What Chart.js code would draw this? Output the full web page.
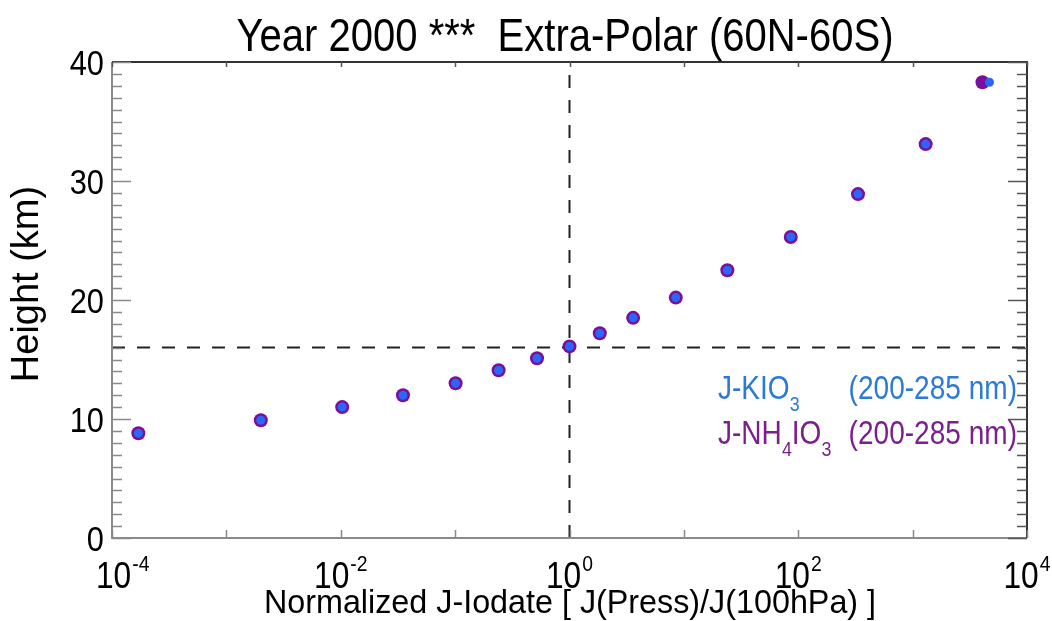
<!DOCTYPE html>
<html>
<head>
<meta charset="utf-8">
<script src="https://cdn.jsdelivr.net/npm/chart.js@4/dist/chart.umd.min.js"></script>
<style>
  html, body { margin: 0; padding: 0; background: #ffffff; }
  #wrap { width: 1052px; height: 621px; }
</style>
</head>
<body>
<div id="wrap"><canvas id="jChart" width="1052" height="621"></canvas></div>
<script>
// heights (km) of the model levels
const heights = [8.8, 9.9, 11.0, 12.0, 13.0, 14.1, 15.1, 16.1, 17.2, 18.5, 20.2, 22.5, 25.3, 28.9, 33.1, 38.3];
// J normalized to its 100 hPa value
const jKIO3 = [1.7e-4, 2.0e-3, 1.03e-2, 3.5e-2, 0.101, 0.24, 0.52, 1.0, 1.84, 3.6, 8.5, 24, 86, 333, 1300, 4700];
const jNH4IO3 = [1.7e-4, 2.0e-3, 1.03e-2, 3.5e-2, 0.101, 0.24, 0.52, 1.0, 1.84, 3.6, 8.5, 24, 86, 333, 1300, 4080];
// reference lines: tropopause height and J = J(100hPa)
const refHeight = 16;
const refRatio = 1;
// axes
const xDecades = [-4, -3, -2, -1, 0, 1, 2, 3, 4];
const xLabelDecades = [-4, -2, 0, 2, 4];
const yTicks = [0, 10, 20, 30, 40];

const FONT = '"Liberation Sans", Arial, sans-serif';
const blue = "#2b66f5";
const purple = "#7a0f9e";

const pts = (xs) => xs.map((v, i) => ({ x: v, y: heights[i] }));

// condensed text: squeeze horizontally by sx, returns drawn width
function text(ctx, str, x, y, size, sx, align) {
  ctx.save();
  ctx.font = size + "px " + FONT;
  const w = ctx.measureText(str).width * sx;
  let x0 = x;
  if (align === "center") x0 = x - w / 2;
  if (align === "right") x0 = x - w;
  ctx.translate(x0, y);
  ctx.scale(sx, 1);
  ctx.textAlign = "left";
  ctx.fillText(str, 0, 0);
  ctx.restore();
  return w;
}

function width(ctx, str, size, sx) {
  ctx.font = size + "px " + FONT;
  return ctx.measureText(str).width * sx;
}

const frame = {
  id: "frame",
  afterDatasetsDraw(chart) {
    const ctx = chart.ctx;
    const { left, right, top, bottom } = chart.chartArea;
    const xs = chart.scales.x;
    const ys = chart.scales.y;
    ctx.save();

    // box
    ctx.lineWidth = 2;
    ctx.strokeStyle = "#8a8a8a";
    ctx.beginPath();
    ctx.moveTo(left, top);
    ctx.lineTo(left, bottom);
    ctx.lineTo(right, bottom);
    ctx.stroke();
    ctx.strokeStyle = "#333";
    ctx.beginPath();
    ctx.moveTo(left, top);
    ctx.lineTo(right, top);
    ctx.lineTo(right, bottom);
    ctx.stroke();

    // y ticks, both sides, inward
    ctx.lineWidth = 1.5;
    for (let v = 0; v <= 40; v++) {
      const y = Math.round(ys.getPixelForValue(v)) + 0.5;
      const len = v % 10 === 0 ? 19 : 10;
      ctx.strokeStyle = "#8a8a8a";
      ctx.beginPath();
      ctx.moveTo(left, y);
      ctx.lineTo(left + len, y);
      ctx.stroke();
      ctx.strokeStyle = "#555";
      ctx.beginPath();
      ctx.moveTo(right, y);
      ctx.lineTo(right - len, y);
      ctx.stroke();
    }
    // x ticks at every decade
    xDecades.forEach((d) => {
      const x = Math.round(xs.getPixelForValue(Math.pow(10, d))) + 0.5;
      ctx.strokeStyle = "#555";
      ctx.beginPath();
      ctx.moveTo(x, top);
      ctx.lineTo(x, top + 5);
      ctx.stroke();
      ctx.strokeStyle = "#8a8a8a";
      ctx.beginPath();
      ctx.moveTo(x, bottom);
      ctx.lineTo(x, bottom - 8);
      ctx.stroke();
    });

    ctx.fillStyle = "#000";
    ctx.textBaseline = "alphabetic";
    // y labels
    yTicks.forEach((v) => text(ctx, String(v), 104, ys.getPixelForValue(v) + 12.5, 35, 0.88, "right"));

    // x labels: 10 with superscript exponent, centred as a whole on the tick
    xLabelDecades.forEach((d) => {
      const x = xs.getPixelForValue(Math.pow(10, d));
      const w1 = width(ctx, "10", 36, 0.88);
      const w2 = width(ctx, String(d), 22, 0.88);
      const x0 = Math.max(x - (w1 + w2 + 1) / 2, 96);
      text(ctx, "10", x0, 588, 36, 0.88, "left");
      text(ctx, String(d), x0 + w1 + 1, 571, 22, 0.88, "left");
    });

    // title and axis titles
    text(ctx, "Year 2000 ***  Extra-Polar (60N-60S)", 565, 51, 46, 0.87, "center");
    text(ctx, "Normalized J-Iodate [ J(Press)/J(100hPa) ]", 570, 613, 34, 0.95, "center");
    ctx.save();
    ctx.translate(38, 284);
    ctx.rotate(-Math.PI / 2);
    text(ctx, "Height (km)", 0, 0, 38, 1, "center");
    ctx.restore();

    // legend with chemical subscripts
    const row = (parts, color, yb) => {
      ctx.fillStyle = color;
      let x = 718;
      parts.forEach(([t, sub]) => {
        x += text(ctx, t, x, sub ? yb + 12 : yb, sub ? 21 : 33, 0.85, "left");
      });
      text(ctx, "(200-285 nm)", 1017, yb, 33, 0.85, "right");
    };
    row([["J-KIO"], ["3", true]], "#2a7ad6", 399);
    row([["J-NH"], ["4", true], ["IO"], ["3", true]], "#7b1f8c", 444);

    ctx.restore();
  },
};

new Chart(document.getElementById("jChart"), {
  type: "scatter",
  data: {
    datasets: [
      {
        label: "J-KIO3 (200-285 nm)",
        data: pts(jKIO3),
        backgroundColor: blue,
        borderWidth: 0,
        pointRadius: 4.5,
        order: 0,
      },
      {
        label: "J-NH4IO3 (200-285 nm)",
        data: pts(jNH4IO3),
        backgroundColor: purple,
        borderWidth: 0,
        pointRadius: 7,
        order: 1,
      },
      {
        type: "line",
        label: "tropopause",
        data: [{ x: 1e-4, y: refHeight }, { x: 1e4, y: refHeight }],
        borderColor: "#222",
        borderWidth: 2,
        borderDash: [13, 12],
        pointRadius: 0,
        order: 2,
      },
      {
        type: "line",
        label: "unity",
        data: [{ x: refRatio, y: 0 }, { x: refRatio, y: 40 }],
        borderColor: "#222",
        borderWidth: 2,
        borderDash: [13, 12],
        pointRadius: 0,
        order: 2,
      },
    ],
  },
  options: {
    responsive: false,
    animation: false,
    layout: { padding: { left: 112, top: 62, right: 25, bottom: 83 } },
    scales: {
      x: { type: "logarithmic", min: 1e-4, max: 1e4, display: false },
      y: { type: "linear", min: 0, max: 40, display: false },
    },
    plugins: {
      legend: { display: false },
      tooltip: { enabled: false },
    },
  },
  plugins: [frame],
});
</script>
</body>
</html>
